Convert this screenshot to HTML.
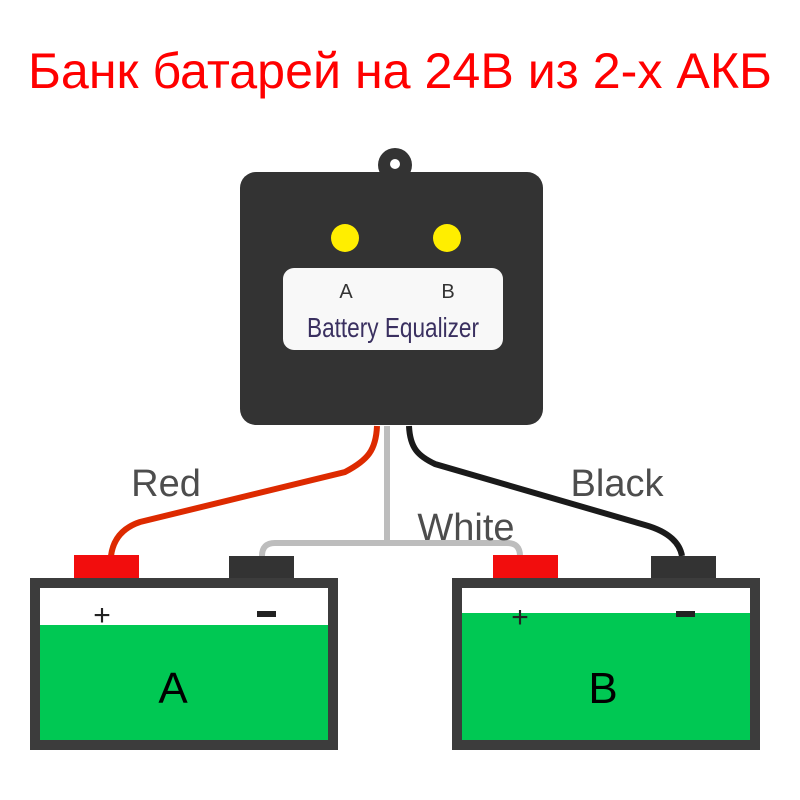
<!DOCTYPE html>
<html><head><meta charset="utf-8"><style>html,body{margin:0;padding:0;background:#fff}svg{display:block}</style></head>
<body>
<svg width="800" height="800" viewBox="0 0 800 800" xmlns="http://www.w3.org/2000/svg">
<rect width="800" height="800" fill="#fff"/>
<text x="400" y="88" text-anchor="middle" font-family="Liberation Sans, DejaVu Sans, sans-serif" font-size="50" fill="#f00" textLength="744" lengthAdjust="spacingAndGlyphs">Банк батарей на 24В из 2-х АКБ</text>
<!-- equalizer -->
<circle cx="395" cy="165" r="17" fill="#333"/>
<circle cx="395" cy="164" r="5" fill="#fff"/>
<rect x="240" y="172" width="303" height="253" rx="16" fill="#333"/>
<circle cx="345" cy="238" r="14" fill="#ffee00"/>
<circle cx="447" cy="238" r="14" fill="#ffee00"/>
<rect x="283" y="268" width="220" height="82" rx="11" fill="#f8f8f8"/>
<text x="346" y="298" text-anchor="middle" font-family="Liberation Sans, sans-serif" font-size="20" fill="#333">A</text>
<text x="448" y="298" text-anchor="middle" font-family="Liberation Sans, sans-serif" font-size="20" fill="#333">B</text>
<text x="393" y="337" text-anchor="middle" font-family="Liberation Sans Narrow, Liberation Sans, sans-serif" font-size="28" fill="#3a3060" textLength="172" lengthAdjust="spacingAndGlyphs">Battery Equalizer</text>
<!-- wires -->
<path d="M387,426 L387,543 M262,556 Q262,543 275,543 L507,543 Q520,543 520,556" fill="none" stroke="#bdbdbd" stroke-width="6"/>
<path d="M377,426 C376,450 368,460 345,472 L140,522 C122,528 113,540 111,556" fill="none" stroke="#dd2a00" stroke-width="6"/>
<path d="M409,426 C410,448 418,456 435,464 L645,525 C670,532 680,544 682,556" fill="none" stroke="#1a1a1a" stroke-width="6"/>
<text x="166" y="496" text-anchor="middle" font-family="Liberation Sans, sans-serif" font-size="38" fill="#4d4d4d">Red</text>
<text x="617" y="496" text-anchor="middle" font-family="Liberation Sans, sans-serif" font-size="38" fill="#4d4d4d">Black</text>
<text x="466" y="540" text-anchor="middle" font-family="Liberation Sans, sans-serif" font-size="38" fill="#4d4d4d">White</text>
<!-- battery A -->
<rect x="74" y="555" width="65" height="24" fill="#f20d0d"/>
<rect x="229" y="556" width="65" height="23" fill="#333"/>
<rect x="30" y="578" width="308" height="172" fill="#3c3c3c"/>
<rect x="40" y="588" width="288" height="37" fill="#fff"/>
<rect x="40" y="625" width="288" height="115" fill="#00c853"/>
<text x="102" y="625" text-anchor="middle" font-family="Liberation Sans, sans-serif" font-size="30" fill="#222">+</text>
<rect x="257" y="611" width="19" height="6" fill="#222"/>
<text x="173" y="703" text-anchor="middle" font-family="Liberation Sans, sans-serif" font-size="44" fill="#000">A</text>
<!-- battery B -->
<rect x="493" y="555" width="65" height="24" fill="#f20d0d"/>
<rect x="651" y="556" width="65" height="23" fill="#333"/>
<rect x="452" y="578" width="308" height="172" fill="#3c3c3c"/>
<rect x="462" y="588" width="288" height="25" fill="#fff"/>
<rect x="462" y="613" width="288" height="127" fill="#00c853"/>
<text x="520" y="627" text-anchor="middle" font-family="Liberation Sans, sans-serif" font-size="30" fill="#222">+</text>
<rect x="676" y="611" width="19" height="6" fill="#222"/>
<text x="603" y="703" text-anchor="middle" font-family="Liberation Sans, sans-serif" font-size="44" fill="#000">B</text>
</svg>
</body></html>
